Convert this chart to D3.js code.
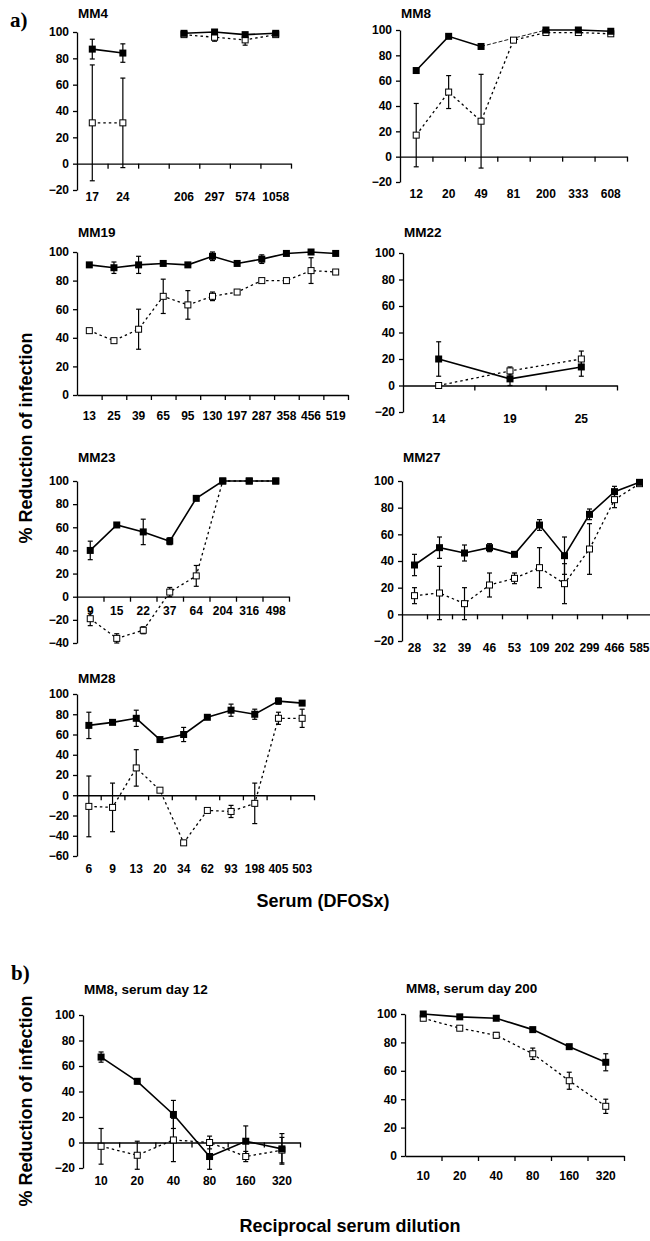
<!DOCTYPE html>
<html>
<head>
<meta charset="utf-8">
<script src="https://cdn.jsdelivr.net/npm/d3@7"></script>
<style>
  body { margin: 0; background: #fff; }
  svg { display: block; font-family: "Liberation Sans", Arial, sans-serif; font-weight: bold; }
  .tick text { font-size: 12px; font-weight: bold; }
</style>
</head>
<body>
<svg id="fig" width="650" height="1241"></svg>
<script>
// MM4
var mm4Dose = ["17", "24", "", "206", "297", "574", "1058"];
var mm4Filled = [87, 84, null, 99, 100, 98, 99];
var mm4FilledErr = [7.5, 7, 0, 0, 0, 0, 0];
var mm4Open = [31, 31, null, 98, 96, 94, 98];
var mm4OpenErr = [44, 34, 0, 0, 3, 4, 0];

// MM8
var mm8Dose = ["12", "20", "49", "81", "200", "333", "608"];
var mm8Filled = [68, 95, 87, null, 100, 100, 99];
var mm8FilledErr = [0, 0, 0, 0, 0, 0, 0];
var mm8Open = [17, 51, 28, 92, 98, 98, 97];
var mm8OpenErr = [25, 13, 37, 0, 0, 0, 0];

// MM19
var mm19Dose = ["13", "25", "39", "65", "95", "130", "197", "287", "358", "456", "519"];
var mm19Filled = [91, 89, 91, 92, 91, 97, 92, 95, 99, 100, 99];
var mm19FilledErr = [0, 4, 6, 0, 0, 3, 0, 3, 0, 0, 0];
var mm19Open = [45, 38, 46, 69, 63, 69, 72, 80, 80, 87, 86];
var mm19OpenErr = [0, 0, 14, 12, 10, 3, 0, 0, 0, 9, 0];

// MM22
var mm22Dose = ["14", "19", "25"];
var mm22Filled = [20, 5, 14];
var mm22FilledErr = [13, 5, 7];
var mm22Open = [0, 11, 20];
var mm22OpenErr = [0, 3, 6];

// MM23
var mm23Dose = ["9", "15", "22", "37", "64", "204", "316", "498"];
var mm23Filled = [40, 62, 56, 48, 85, 100, 100, 100];
var mm23FilledErr = [8, 0, 11, 3, 0, 0, 0, 0];
var mm23Open = [-19, -36, -29, 4, 18, 100, 100, 100];
var mm23OpenErr = [6, 4, 3, 4, 9, 0, 0, 0];

// MM27
var mm27Dose = ["28", "32", "39", "46", "53", "109", "202", "299", "466", "585"];
var mm27Filled = [37, 50, 46, 50, 45, 67, 44, 75, 92, 99];
var mm27FilledErr = [8, 8, 6, 3, 0, 4, 14, 4, 4, 0];
var mm27Open = [14, 16, 8, 22, 27, 35, 23, 49, 86, 98];
var mm27OpenErr = [6, 20, 12, 9, 4, 15, 15, 19, 6, 0];

// MM28
var mm28Dose = ["6", "9", "13", "20", "34", "62", "93", "198", "405", "503"];
var mm28Filled = [69, 72, 76, 55, 60, 77, 84, 80, 93, 91];
var mm28FilledErr = [13, 0, 8, 0, 7, 0, 6, 5, 3, 2];
var mm28Open = [-11, -12, 27, 5, -47, -15, -16, -8, 76, 76];
var mm28OpenErr = [30, 24, 18, 0, 0, 0, 6, 20, 6, 9];

// b) MM8 dilutions
var dilution = ["10", "20", "40", "80", "160", "320"];
var day12Filled = [67, 48, 22, -11, 1, -5];
var day12FilledErr = [4, 2, 11, 10, 12, 12];
var day12Open = [-3, -10, 2, 0, -11, -6];
var day12OpenErr = [14, 11, 17, 5, 4, 10];
var day200Filled = [100, 98, 97, 89, 77, 66];
var day200FilledErr = [0, 0, 1, 0, 1, 6];
var day200Open = [97, 90, 85, 72, 53, 35];
var day200OpenErr = [0, 0, 2, 4, 6, 5];

var svg = d3.select("#fig");

function drawPanel(p) {
    var n = p.dose.length;
    var g = svg.append("g");

    var x = d3.scaleBand().domain(d3.range(n)).range([p.x0, p.x1]);
    var xb = d3.scaleLinear().domain([0, n]).range([p.x0, p.x1]);
    var y = d3.scaleLinear().domain([p.yMin, 100]).range([p.yBot, p.yTop]);
    var cx = function (i) { return x(i) + x.bandwidth() / 2; };

    // y axis
    g.append("g")
        .attr("transform", "translate(" + p.x0 + ",0)")
        .call(d3.axisLeft(y).tickValues(d3.range(p.yMin, 101, 20)).tickSize(4).tickSizeOuter(0).tickPadding(4))
        .call(function (a) { a.selectAll("path, line").attr("stroke", "#000").attr("stroke-width", 1.3); });

    // x axis on the zero line
    g.append("g")
        .attr("transform", "translate(0," + y(0) + ")")
        .call(d3.axisBottom(xb).tickValues(d3.range(1, n + 1)).tickSize(5).tickSizeOuter(0).tickFormat(""))
        .call(function (a) { a.selectAll("path, line").attr("stroke", "#000").attr("stroke-width", 1.3); });

    g.selectAll(".xlab")
        .data(p.dose)
        .enter().append("text")
        .attr("x", function (d, i) { return cx(i); })
        .attr("y", p.labelY)
        .attr("text-anchor", "middle")
        .style("font-size", "12px")
        .text(function (d) { return d; });

    g.append("text")
        .attr("x", p.x0 + 1)
        .attr("y", p.titleY)
        .style("font-size", "13.5px")
        .text(p.title);

    var open = p.open.map(function (v, i) { return {i: i, v: v, e: p.openErr[i]}; });
    var filled = p.filled.map(function (v, i) { return {i: i, v: v, e: p.filledErr[i]}; });

    var line = d3.line()
        .defined(function (d) { return d.v !== null; })
        .x(function (d) { return cx(d.i); })
        .y(function (d) { return y(d.v); });

    g.append("path")
        .attr("d", line(open))
        .attr("fill", "none")
        .attr("stroke", "#000")
        .attr("stroke-width", 1.3)
        .attr("stroke-dasharray", "2.5,3");

    g.append("path")
        .attr("d", line(filled))
        .attr("fill", "none")
        .attr("stroke", "#000")
        .attr("stroke-width", 1.6);

    // thin dashed bridge over a missing filled value
    if (p.bridge) {
        var def = filled.filter(function (d) { return d.v !== null; });
        for (var k = 1; k < def.length; k++) {
            if (def[k].i - def[k - 1].i > 1) {
                g.append("path")
                    .attr("d", d3.line().x(function (d) { return cx(d.i); }).y(function (d) { return y(d.v); })([def[k - 1], def[k]]))
                    .attr("fill", "none")
                    .attr("stroke", "#000")
                    .attr("stroke-width", 0.9)
                    .attr("stroke-dasharray", "4,2");
            }
        }
    }

    // error bars
    var bars = open.concat(filled).filter(function (d) { return d.v !== null && d.e > 0; });
    bars.forEach(function (d) {
        var xx = cx(d.i);
        g.append("line").attr("x1", xx).attr("x2", xx)
            .attr("y1", y(d.v - d.e)).attr("y2", y(d.v + d.e))
            .attr("stroke", "#000").attr("stroke-width", 1.2);
        [d.v - d.e, d.v + d.e].forEach(function (v) {
            g.append("line").attr("x1", xx - 2.5).attr("x2", xx + 2.5)
                .attr("y1", y(v)).attr("y2", y(v))
                .attr("stroke", "#000").attr("stroke-width", 1.2);
        });
    });

    g.selectAll(".open")
        .data(open.filter(function (d) { return d.v !== null; }))
        .enter().append("rect")
        .attr("x", function (d) { return cx(d.i) - 3; })
        .attr("y", function (d) { return y(d.v) - 3; })
        .attr("width", 6).attr("height", 6)
        .attr("fill", "#fff").attr("stroke", "#000").attr("stroke-width", 1);

    g.selectAll(".filled")
        .data(filled.filter(function (d) { return d.v !== null; }))
        .enter().append("rect")
        .attr("x", function (d) { return cx(d.i) - 3.5; })
        .attr("y", function (d) { return y(d.v) - 3.5; })
        .attr("width", 7).attr("height", 7)
        .attr("fill", "#000");
}

drawPanel({title: "MM4", dose: mm4Dose, filled: mm4Filled, filledErr: mm4FilledErr, open: mm4Open, openErr: mm4OpenErr,
    x0: 77, x1: 291, yTop: 32, yBot: 190, yMin: -20, titleY: 18, labelY: 201});
drawPanel({title: "MM8", dose: mm8Dose, filled: mm8Filled, filledErr: mm8FilledErr, open: mm8Open, openErr: mm8OpenErr,
    x0: 400, x1: 627, yTop: 30, yBot: 182, yMin: -20, titleY: 18, labelY: 198, bridge: true});
drawPanel({title: "MM19", dose: mm19Dose, filled: mm19Filled, filledErr: mm19FilledErr, open: mm19Open, openErr: mm19OpenErr,
    x0: 77, x1: 348, yTop: 252, yBot: 395, yMin: 0, titleY: 237, labelY: 420});
drawPanel({title: "MM22", dose: mm22Dose, filled: mm22Filled, filledErr: mm22FilledErr, open: mm22Open, openErr: mm22OpenErr,
    x0: 403, x1: 617, yTop: 253, yBot: 412, yMin: -20, titleY: 237, labelY: 423});
drawPanel({title: "MM23", dose: mm23Dose, filled: mm23Filled, filledErr: mm23FilledErr, open: mm23Open, openErr: mm23OpenErr,
    x0: 77, x1: 289, yTop: 481, yBot: 643, yMin: -40, titleY: 462, labelY: 615});
drawPanel({title: "MM27", dose: mm27Dose, filled: mm27Filled, filledErr: mm27FilledErr, open: mm27Open, openErr: mm27OpenErr,
    x0: 402, x1: 652, yTop: 481, yBot: 641, yMin: -20, titleY: 462, labelY: 652});
drawPanel({title: "MM28", dose: mm28Dose, filled: mm28Filled, filledErr: mm28FilledErr, open: mm28Open, openErr: mm28OpenErr,
    x0: 77, x1: 314, yTop: 694, yBot: 856, yMin: -60, titleY: 683, labelY: 873});
drawPanel({title: "MM8, serum day 12", dose: dilution, filled: day12Filled, filledErr: day12FilledErr, open: day12Open, openErr: day12OpenErr,
    x0: 83, x1: 300, yTop: 1015, yBot: 1168, yMin: -20, titleY: 994, labelY: 1185});
drawPanel({title: "MM8, serum day 200", dose: dilution, filled: day200Filled, filledErr: day200FilledErr, open: day200Open, openErr: day200OpenErr,
    x0: 405, x1: 624, yTop: 1014, yBot: 1156, yMin: 0, titleY: 993, labelY: 1180});

// section letters
svg.append("text").attr("x", 10).attr("y", 27)
    .style("font-family", "'Liberation Serif', 'Times New Roman', serif").style("font-size", "21px")
    .text("a)");
svg.append("text").attr("x", 11).attr("y", 980)
    .style("font-family", "'Liberation Serif', 'Times New Roman', serif").style("font-size", "21px")
    .text("b)");

// axis titles
svg.append("text").attr("transform", "translate(32,438) rotate(-90)")
    .attr("text-anchor", "middle").style("font-size", "18px")
    .text("% Reduction of infection");
svg.append("text").attr("transform", "translate(32,1101) rotate(-90)")
    .attr("text-anchor", "middle").style("font-size", "18px")
    .text("% Reduction of infection");
svg.append("text").attr("x", 323).attr("y", 907)
    .attr("text-anchor", "middle").style("font-size", "18px")
    .text("Serum (DFOSx)");
svg.append("text").attr("x", 350).attr("y", 1232)
    .attr("text-anchor", "middle").style("font-size", "18px")
    .text("Reciprocal serum dilution");
</script>
</body>
</html>
